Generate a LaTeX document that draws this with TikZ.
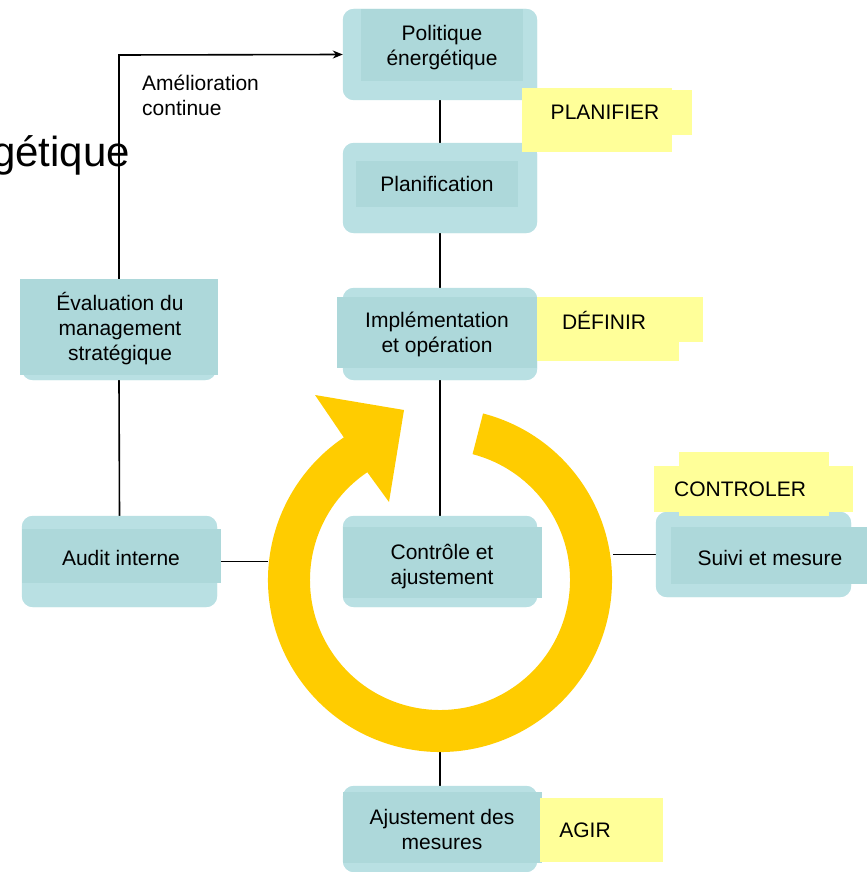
\documentclass[tikz,border=0pt]{standalone}
\usepackage{fontspec}
\setmainfont{Liberation Sans}
\usetikzlibrary{arrows.meta,calc}

\definecolor{boxlight}{RGB}{185,224,227}
\definecolor{boxdark}{RGB}{173,216,218}
\definecolor{notey}{RGB}{255,255,153}
\definecolor{ringy}{RGB}{255,204,0}

\begin{document}
\begin{tikzpicture}[x=1pt,y=-1pt,
  outerbox/.style={fill=boxlight, rounded corners=11pt, inner sep=0pt, minimum width=194pt},
  innerbox/.style={fill=boxdark},
  notebox/.style={fill=notey},
  label/.style={align=center, font=\fontsize{21}{25}\selectfont, inner sep=0pt},
  link/.style={draw=black, line width=1.6pt},
  ringfill/.style={fill=ringy}]

\useasboundingbox (0,0) rectangle (867,872);

% truncated heading on the left
\node[anchor=base west, inner sep=0pt, font=\fontsize{42}{50}\selectfont] (head) at (-8,166) {gétique};

% ---- box frames (named nodes) ----
\node[outerbox, minimum height=91pt] (pol) at (440,54.5) {};
\node[outerbox, minimum height=90pt] (pla) at (440,188) {};
\node[outerbox, minimum height=92pt] (imp) at (440,334) {};
\node[outerbox, minimum height=91pt] (con) at (440,561.5) {};
\node[outerbox, minimum height=86pt] (aju) at (440,829) {};
\node[outerbox, minimum height=95pt] (eva) at (119,332.5) {};
\node[outerbox, minimum width=195pt, minimum height=91pt] (aud) at (119.5,561.5) {};
\node[outerbox, minimum width=195pt, minimum height=85pt] (sui) at (753.5,554.5) {};

% connector end points on the ring edge
\coordinate (ringL) at (268,561.5);
\coordinate (ringR) at (613,554.5);
\coordinate (ringB) at (440,750);
\coordinate (bend) at (119,55);

% ---- connectors ----
\draw[link] (pol.south) -- (pla.north);
\draw[link] (pla.south) -- (imp.north);
\draw[link] (imp.south) -- (con.north);
\draw[link] (ringB) -- (aju.north);
\draw[link] (eva.south) -- (aud.north);
\draw[link] (aud.east) -- (ringL);
\draw[link] (ringR) -- (sui.west);
\draw[link, -{Stealth[length=10pt,width=8pt]}] (eva.north) -- (bend) -- (pol.west);

% ---- circular arrow ----
\coordinate (C) at (440,580);
\fill[ringfill] ($(C)+(-75.5:172)$) arc[start angle=-75.5, end angle=236, radius=172]
  -- (315,395) -- (404,410) -- (389,502)
  -- ($(C)+(236:130)$) arc[start angle=236, end angle=-75.5, radius=130] -- cycle;

% ---- box bodies (redrawn over the ring) ----
\foreach \n in {pol,pla,imp,con,aju,eva,aud,sui}
  \fill[boxlight, rounded corners=11pt] (\n.north west) rectangle (\n.south east);
\fill[innerbox] (361,9) rectangle (523,81);
\fill[innerbox] (356,161) rectangle (518,207);
\fill[innerbox] (337,297) rectangle (537,368);
\fill[innerbox] (343,527) rectangle (542,598);
\fill[innerbox] (343,792) rectangle (542,863);
\fill[innerbox] (20,279) rectangle (218,375);
\fill[innerbox] (22,529) rectangle (221,583);
\fill[innerbox] (671,527) rectangle (867,584);

% ---- phase notes ----
\fill[notebox] (522,88) rectangle (672,152);
\fill[notebox] (560,90) rectangle (692,135);
\fill[notebox] (537,297) rectangle (679,361);
\fill[notebox] (560,297) rectangle (703,342);
\fill[notebox] (654,466) rectangle (853,512);
\fill[notebox] (679,452) rectangle (829,516);
\fill[notebox] (540,798) rectangle (663,862);

% ---- texts ----
\node[label] (tpol) at (442,47.5) {Politique\\énergétique};
\node[label] (tpla) at (437,184) {Planification};
\node[label] (timp) at (437,334.5) {Implémentation\\et opération};
\node[label] (tcon) at (442,566.5) {Contrôle et\\ajustement};
\node[label] (taju) at (442,829) {Ajustement des\\mesures};
\node[label] (teva) at (120,328.5) {Évaluation du\\management\\stratégique};
\node[label] (taud) at (121,558) {Audit interne};
\node[label] (tsui) at (770,558) {Suivi et mesure};
\node[label, align=left, anchor=north west] (tam) at (142,75) {Amélioration\\continue};

\node[label] (nplan) at (605,112) {PLANIFIER};
\node[label] (ndef) at (604,320) {DÉFINIR};
\node[label] (nctl) at (740,489) {CONTROLER};
\node[label] (nagir) at (585,830) {AGIR};
\end{tikzpicture}
\end{document}
